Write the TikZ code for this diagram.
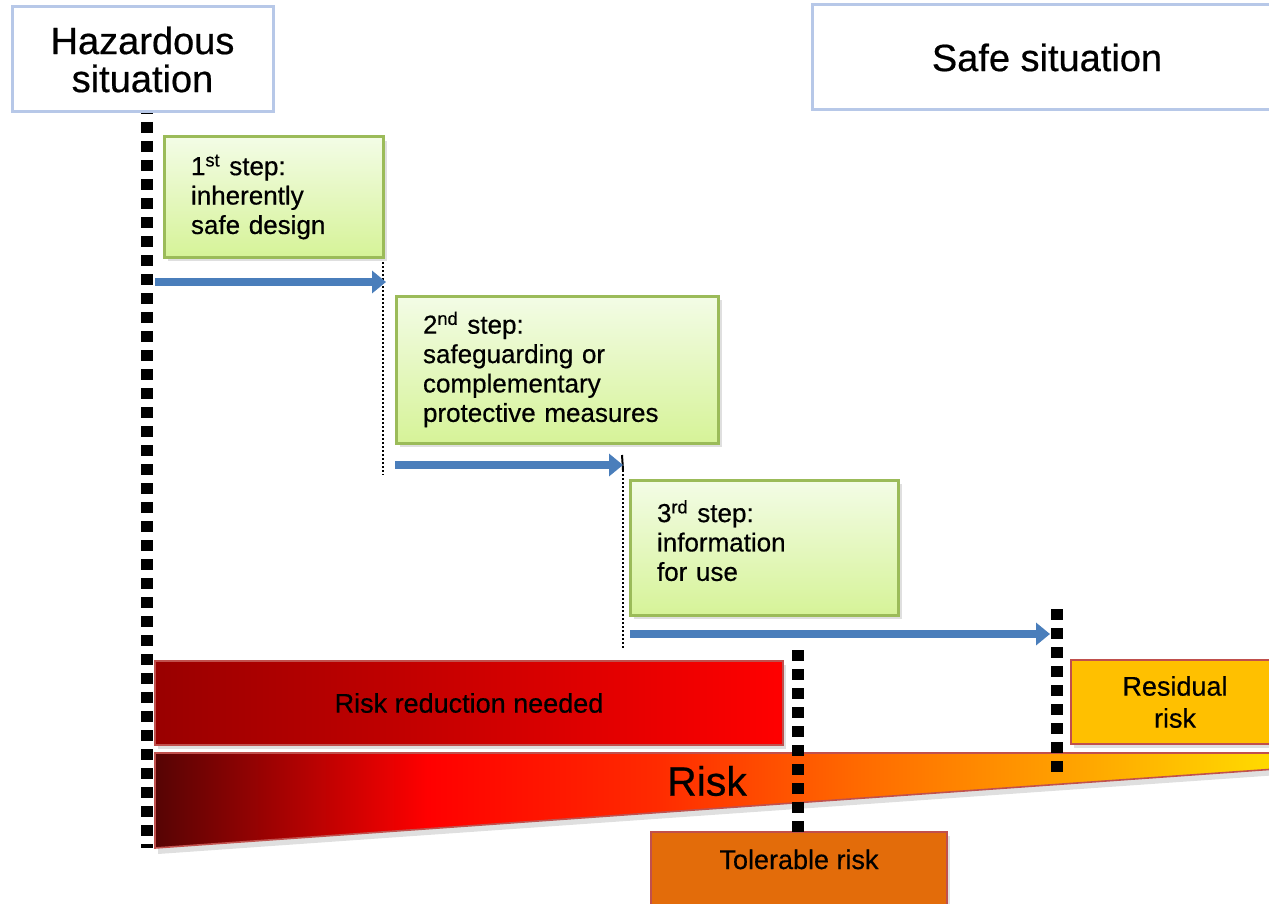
\documentclass[tikz,border=0pt]{standalone}
\usepackage{fontspec}
\setmainfont{Liberation Sans}[FakeBold=0.5]
\usetikzlibrary{arrows.meta,shadows}
\definecolor{sitblue}{HTML}{B7C8E8}
\definecolor{stepgreen}{HTML}{9BBB59}
\definecolor{steptop}{HTML}{F3FCE6}
\definecolor{stepbot}{HTML}{D6F398}
\definecolor{flowblue}{HTML}{4A7EBB}
\definecolor{riskborder}{HTML}{C0504D}
\definecolor{rboxleft}{HTML}{990000}
\definecolor{rboxright}{HTML}{FF0000}
\definecolor{residfill}{HTML}{FFC000}
\definecolor{tolfill}{HTML}{E36C0A}
\definecolor{rdark}{HTML}{560404}
\definecolor{rred}{HTML}{FF0000}
\definecolor{rorangeA}{HTML}{FF2A00}
\definecolor{rorangeB}{HTML}{FF6A00}
\definecolor{rorangeC}{HTML}{FFA000}
\definecolor{ryellow}{HTML}{FFE000}
\pgfdeclarehorizontalshading{riskshade}{100bp}{color(0bp)=(rdark); color(25bp)=(rdark); color(37bp)=(rred); color(47bp)=(rorangeA); color(56bp)=(rorangeB); color(65bp)=(rorangeC); color(75bp)=(ryellow); color(100bp)=(ryellow)}
\tikzset{
  sitbox/.style={draw=sitblue, line width=1.5pt, fill=white, align=center, inner sep=0pt,
    font=\fontsize{19}{19}\selectfont},
  stepbox/.style={draw=stepgreen, line width=1.5pt, top color=steptop, bottom color=stepbot,
    align=left, inner xsep=13.5pt, inner ysep=0pt, font=\fontsize{13}{14.7}\selectfont,
    drop shadow={shadow xshift=2pt, shadow yshift=-2pt, opacity=0.25, fill=gray}},
  riskbox/.style={draw=riskborder, line width=1pt, inner sep=0pt, align=center,
    font=\fontsize{13.5}{16}\selectfont,
    drop shadow={shadow xshift=1.5pt, shadow yshift=-2pt, opacity=0.25, fill=gray}},
  flow/.style={draw=flowblue, line width=4pt, -{Triangle[width=11pt,length=7pt]}},
  bigdots/.style={line width=5.6pt, dash pattern=on 5.5pt off 4pt},
  smalldots/.style={line width=1pt, dash pattern=on 1pt off 1pt},
}
\begin{document}
\begin{tikzpicture}[x=0.5pt,y=-0.5pt]
\useasboundingbox (0,0) rectangle (1269,904);
\clip (0,0) rectangle (1269,904);

% risk wedge
\shade[shading=riskshade, draw=riskborder, line width=0.8pt,
  drop shadow={shadow xshift=1.5pt, shadow yshift=-3pt, opacity=0.25, fill=gray}]
  (155,753) -- (1290,753) -- (1290,768) -- (155,848) -- cycle;

% risk boxes
\node[riskbox, left color=rboxleft, right color=rboxright, minimum width=314pt, minimum height=42pt]
  (need) at (469,703) {Risk reduction needed};
\node[riskbox, fill=residfill, minimum width=104pt, minimum height=42pt]
  (resid) at (1175,702) {Residual\\risk};
\node[riskbox, fill=tolfill, minimum width=148pt, anchor=base, text height=18.5pt, text depth=30pt]
  (toler) at (799,869) {Tolerable risk};

% dotted lines
\coordinate (d0t) at (147,103);
\coordinate (d0b) at (147,848);
\coordinate (d1t) at (383,262);
\coordinate (d1b) at (383,475);
\coordinate (d2t) at (623,470);
\coordinate (d2b) at (623,648);
\coordinate (d3t) at (798,650);
\coordinate (d3b) at (798,832);
\coordinate (d4t) at (1057,609);
\coordinate (d4b) at (1057,778);
\draw[bigdots] (d0t) -- (d0b);
\draw[smalldots] (d1t) -- (d1b);
\draw[line width=1pt] (622,455) -- (d2t);
\draw[smalldots] (d2t) -- (d2b);
\draw[bigdots] (d3t) -- (d3b);
\draw[bigdots] (d4t) -- (d4b);

% situation boxes
\node[sitbox, minimum width=130.5pt, minimum height=52.5pt] (haz) at (142.5,59.5) {Hazardous\\situation};
\node[sitbox, minimum width=235pt, minimum height=52.5pt] (safe) at (1047,57.5) {Safe situation};

% step boxes
\node[stepbox, text width=82.5pt, minimum height=60pt] (s1) at (273.5,197)
  {1\textsuperscript{st} step:\\inherently\\safe design};
\node[stepbox, text width=134pt, minimum height=73.5pt] (s2) at (557,369.5)
  {2\textsuperscript{nd} step:\\safeguarding or\\complementary\\protective measures};
\node[stepbox, text width=107pt, minimum height=67.5pt] (s3) at (764,547.5)
  {3\textsuperscript{rd} step:\\information\\for use\rule[-7pt]{0pt}{7pt}};

% arrows
\coordinate (a1s) at (155,282);
\coordinate (a1e) at (386,282);
\coordinate (a2s) at (395,465);
\coordinate (a2e) at (623,465);
\coordinate (a3s) at (630,634);
\coordinate (a3e) at (1050,634);
\draw[flow] (a1s) -- (a1e);
\draw[flow] (a2s) -- (a2e);
\draw[flow] (a3s) -- (a3e);

% risk label
\node[font=\fontsize{20.5}{20.5}\selectfont, inner sep=0pt] (risk) at (707,781) {Risk};
\end{tikzpicture}
\end{document}
